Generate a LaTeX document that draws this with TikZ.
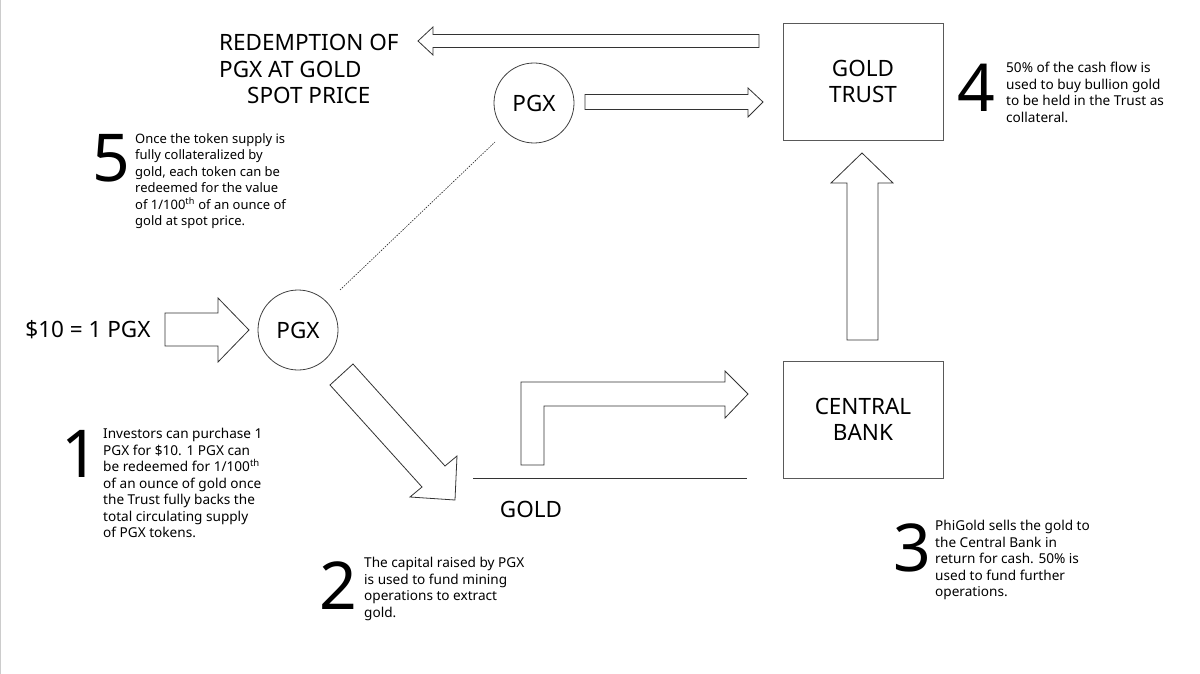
\documentclass[tikz,border=0pt]{standalone}
\usepackage{fontspec}
\setmainfont{Noto Sans}
\begin{document}
\begin{tikzpicture}[x=1pt,y=-1pt,
  blockarrow/.style={draw=black!80,line width=0.8pt,fill=white,line join=miter},
  boxnode/.style={draw=black!65,line width=0.9pt,minimum width=160pt,minimum height=117pt,inner sep=0pt,align=center,font=\fontsize{22.5}{26}\selectfont},
  token/.style={circle,draw=black!75,line width=0.8pt,minimum size=80pt,inner sep=0pt,font=\fontsize{22.5}{26}\selectfont},
  bignum/.style={inner sep=0pt,font=\fontsize{66}{66}\selectfont},
  note/.style={anchor=north west,inner sep=0pt,align=left,font=\fontsize{13.6}{16.5}\selectfont},
  label/.style={inner sep=0pt,align=center,font=\fontsize{22.5}{26.5}\selectfont}]
\useasboundingbox (0,0) rectangle (1200,674);
\draw[black!20,line width=1pt] (0.5,0) -- (0.5,674);

% title
\node[label,anchor=north west,align=left] (title) at (219,34)
  {REDEMPTION OF\\PGX AT GOLD\\\hspace*{28pt}SPOT PRICE};

% boxes
\node[boxnode] (trust) at (863,81.5) {GOLD\\TRUST};
\node[boxnode] (bank) at (863,419.5) {CENTRAL\\BANK};

% tokens
\node[token] (pgxA) at (298,330) {PGX};
\node[token] (pgxB) at (534,103) {PGX};

% labels
\node[label] (price) at (88,330) {\$10 = 1 PGX};
\node[label] (gold) at (531,509) {GOLD};

% block arrows
\draw[blockarrow] (759,34.5) -- (433,34.5) -- (433,27) -- (418,41) -- (433,55) -- (433,47.5) -- (759,47.5) -- cycle;
\draw[blockarrow] (585,94.5) -- (748,94.5) -- (748,88) -- (763,102) -- (748,117) -- (748,109.5) -- (585,109.5) -- cycle;
\draw[blockarrow] (165,313) -- (218,313) -- (218,298) -- (249,330) -- (218,362) -- (218,346) -- (165,346) -- cycle;
\draw[blockarrow] (847,340) -- (847,183) -- (831,183) -- (862,153) -- (893,183) -- (878,183) -- (878,340) -- cycle;
\draw[blockarrow] (330,385) -- (353,364) -- (445,466) -- (457,456) -- (455,500) -- (410,497) -- (422,487) -- cycle;
\draw[blockarrow] (521,465) -- (521,382) -- (725,382) -- (725,371) -- (748,394) -- (725,418) -- (725,406) -- (544,406) -- (544,465) -- cycle;

% ground line
\coordinate (g1) at (473,478);
\coordinate (g2) at (747,478);
\draw[black!80,line width=0.8pt] (g1) -- (g2);

% dotted link
\coordinate (d1) at (340,290);
\coordinate (d2) at (495,142);
\draw[black!85,line width=0.6pt,dash pattern=on 1.5pt off 1.2pt] (d1) -- (d2);

% step numbers and notes
\node[bignum] (n1) at (80,454) {1};
\node[note] (t1) at (103,428) {Investors can purchase 1\\PGX for \$10. 1 PGX can\\be redeemed for 1/100\textsuperscript{th}\\of an ounce of gold once\\the Trust fully backs the\\total circulating supply\\of PGX tokens.};

\node[bignum] (n2) at (338,586) {2};
\node[note] (t2) at (364,557) {The capital raised by PGX\\is used to fund mining\\operations to extract\\gold.};

\node[bignum] (n3) at (912,548) {3};
\node[note] (t3) at (935,520) {PhiGold sells the gold to\\the Central Bank in\\return for cash. 50\% is\\used to fund further\\operations.};

\node[bignum] (n4) at (976,88) {4};
\node[note] (t4) at (1006,62) {50\% of the cash flow is\\used to buy bullion gold\\to be held in the Trust as\\collateral.};

\node[bignum] (n5) at (111,158) {5};
\node[note,font=\fontsize{13}{16.5}\selectfont] (t5) at (135,133) {Once the token supply is\\fully collateralized by\\gold, each token can be\\redeemed for the value\\of 1/100\textsuperscript{th} of an ounce of\\gold at spot price.};
\end{tikzpicture}
\end{document}
